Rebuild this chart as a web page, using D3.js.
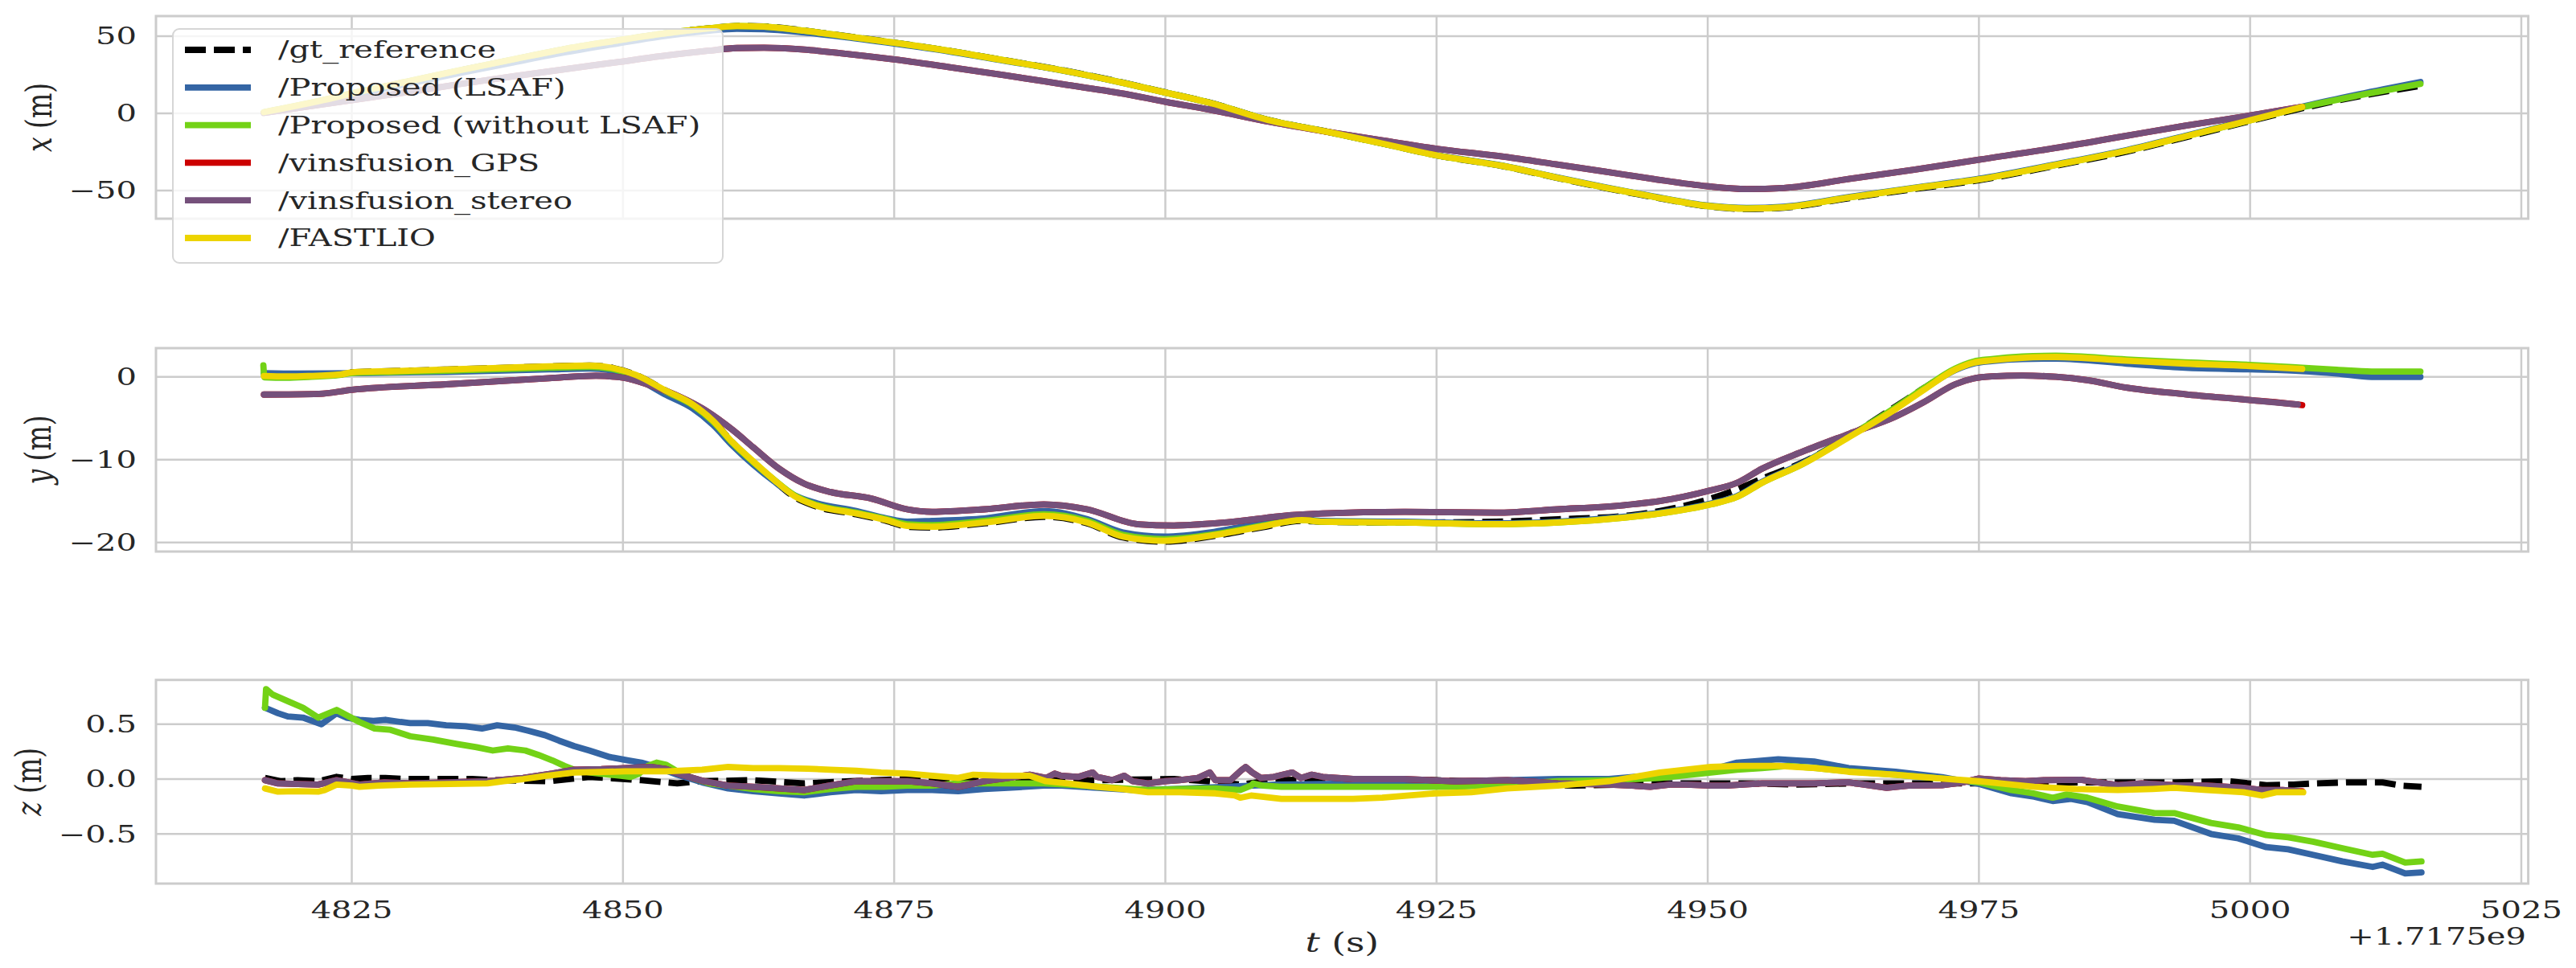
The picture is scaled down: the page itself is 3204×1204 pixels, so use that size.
<!DOCTYPE html>
<html><head><meta charset="utf-8">
<script src="https://cdn.jsdelivr.net/npm/d3@7"></script>
<style>html,body{margin:0;padding:0;background:#fff;} svg{display:block;}</style>
</head><body><div id="chart"></div>
<script>
// ---------- data ----------
const seriesNames = ["/gt_reference","/Proposed (LSAF)","/Proposed (without LSAF)","/vinsfusion_GPS","/vinsfusion_stereo","/FASTLIO"];
const seriesColors = ["#000000","#3465a4","#73d216","#cc0000","#75507b","#edd400"];
const xTickValues = [4825,4850,4875,4900,4925,4950,4975,5000,5025];
const xOffsetText = "+1.7175e9";
const panelLabels = ["x","y","z"];
const yTicksX = [-50,0,50];
const yTicksY = [-20,-10,0];
const yTicksZ = [-0.5,0.0,0.5];

// panel x (m)
const xGt = [[4816.9,0.6],[4822,7.8],[4826,14.3],[4830.4,20.8],[4835,27.8],[4839.9,34.8],[4844.5,41.3],[4849.3,46.8],[4853.5,51.4],[4857.8,55],[4860.5,56.6],[4863,56.3],[4866.7,53.6],[4870,50.6],[4875,45.8],[4880,40.6],[4885.1,34.5],[4890,28.6],[4896.2,19.8],[4900,13.6],[4904,7.1],[4909.7,-4.6],[4915,-12],[4920,-19.5],[4925,-27.2],[4931.2,-34.3],[4936,-41.6],[4940.5,-48.2],[4945,-54.2],[4950,-60.2],[4953.6,-61.9],[4957,-61.1],[4963.1,-54.8],[4969,-49],[4975,-43.3],[4982,-34],[4988.6,-24.8],[4994,-15.6],[5000,-5],[5005,3.6],[5010,11],[5015.7,17.8]];
const xBlue = [[4816.9,0.5],[4822,7.2],[4826,13.3],[4830.4,19.5],[4835,26.2],[4839.9,33],[4844.5,39.3],[4849.3,45],[4853.5,49.8],[4857.8,53.5],[4860.5,54.8],[4863,54.5],[4866.7,52.4],[4870,49.8],[4875,45.2],[4880,40.2],[4885.1,34.2],[4890,28.4],[4896.2,19.6],[4900,13.5],[4904,7],[4909.7,-4.7],[4915,-12],[4920,-19.4],[4925,-27],[4931.2,-34],[4936,-41.3],[4940.5,-47.8],[4945,-53.8],[4950,-59.7],[4953.6,-61.3],[4957,-60.5],[4963.1,-54.1],[4969,-48.2],[4975,-42.4],[4982,-33.1],[4988.6,-23.8],[4994,-14.6],[5000,-4.1],[5005,4.6],[5010,12.3],[5015.7,20.3]];
const xGreen = [[4816.9,0.8],[4822,8],[4826,14.5],[4830.4,21],[4835,28],[4839.9,35],[4844.5,41.5],[4849.3,47],[4853.5,51.5],[4857.8,55],[4860.5,56.6],[4863,56.2],[4866.7,53.5],[4870,50.5],[4875,45.7],[4880,40.5],[4885.1,34.4],[4890,28.5],[4896.2,19.6],[4900,13.5],[4904,7],[4909.7,-4.7],[4915,-12],[4920,-19.5],[4925,-27.2],[4931.2,-34.2],[4936,-41.5],[4940.5,-48],[4945,-54],[4950,-60],[4953.6,-61.6],[4957,-60.8],[4963.1,-54.4],[4969,-48.5],[4975,-42.8],[4982,-33.5],[4988.6,-24.2],[4994,-15],[5000,-4.5],[5005,4.3],[5010,11.6],[5015.7,19.1]];
const xPurple = [[4816.9,0.3],[4822,5.5],[4826,9.5],[4830.4,14],[4835,19],[4839.9,24],[4844.5,28.5],[4849.3,33],[4853.5,37],[4857.8,40.5],[4860.5,42.3],[4863,42.5],[4866.7,41.3],[4870,39],[4875,34.9],[4880,30],[4885.1,24.8],[4890,19.5],[4896.2,12.7],[4900,7.5],[4904,2.5],[4909.7,-5.6],[4915,-12],[4920,-17.5],[4925,-22.9],[4931.2,-28.1],[4936,-33],[4940.5,-37.7],[4945,-42.5],[4950,-47.2],[4953.6,-49],[4957,-48.3],[4963.1,-42.4],[4969,-36.5],[4975,-30],[4982,-22.5],[4988.6,-14.5],[4994,-8],[5000,-1.4],[5004.6,4.0]];
const xRed = xPurple.concat([[5004.8,4.2]]);
const xYellow = [[4816.9,0.8],[4822,8],[4826,14.5],[4830.4,21],[4835,28],[4839.9,35],[4844.5,41.5],[4849.3,47],[4853.5,51.5],[4857.8,55],[4860.5,56.6],[4863,56.2],[4866.7,53.5],[4870,50.5],[4875,45.7],[4880,40.5],[4885.1,34.4],[4890,28.5],[4896.2,19.6],[4900,13.5],[4904,7],[4909.7,-4.7],[4915,-12],[4920,-19.5],[4925,-27.2],[4931.2,-34.2],[4936,-41.5],[4940.5,-48],[4945,-54],[4950,-60],[4953.6,-61.6],[4957,-60.8],[4963.1,-54.4],[4969,-48.5],[4975,-42.8],[4982,-33.5],[4988.6,-24.2],[4994,-15],[5000,-4.5],[5004.8,4.2]];

// panel y (m)
const yGt = [[4816.9,0.1],[4819,0.05],[4821,0.1],[4824,0.3],[4825,0.55],[4829,0.7],[4833.7,0.88],[4838,1.05],[4843.2,1.27],[4846.9,1.36],[4848.8,1.14],[4851.2,0.23],[4854,-1.7],[4856.4,-3.3],[4858.3,-5.3],[4860.1,-7.9],[4862,-10.3],[4863.9,-12.5],[4865.8,-14.5],[4867.7,-15.6],[4871.5,-16.6],[4874.3,-17.4],[4876.2,-18.1],[4878.5,-18.2],[4883.3,-17.7],[4888.8,-16.9],[4892.8,-17.7],[4896.1,-19.4],[4899.9,-19.9],[4904.6,-19.2],[4908.8,-18.2],[4912.6,-17.4],[4914.5,-17.5],[4922,-17.6],[4930.5,-17.5],[4936.2,-17.2],[4942.3,-16.8],[4945.6,-16.2],[4950.3,-14.7],[4952.7,-13.6],[4955,-12.3],[4958.8,-10.3],[4963,-7.2],[4967.3,-3.6],[4970,-1.3],[4972.8,0.9],[4974.5,1.7],[4976.2,2.0],[4979,2.3],[4982.1,2.4],[4988.6,1.9],[4994,1.5],[5000,1.2],[5005,0.9],[5010,0.6],[5015.7,0.4]];
const yBlue = [[4816.9,0.45],[4820,0.4],[4825,0.45],[4833.7,0.6],[4843.2,0.9],[4846.9,1.0],[4848.8,0.8],[4851.2,-0.2],[4854,-2.2],[4856.4,-3.8],[4858.3,-5.8],[4860.1,-8.3],[4862,-10.6],[4863.9,-12.6],[4865.8,-14.3],[4867.7,-15.2],[4871.5,-16.2],[4874.3,-17.1],[4876.2,-17.5],[4878.5,-17.4],[4883.3,-17.1],[4888.8,-16.2],[4892.8,-17.2],[4896.1,-18.8],[4899.9,-19.3],[4904.6,-18.7],[4908.8,-17.7],[4912.6,-17.2],[4914.5,-17.4],[4922,-17.5],[4930.5,-17.7],[4936.2,-17.5],[4942.3,-16.9],[4945.6,-16.4],[4950.3,-15.3],[4952.7,-14.4],[4955,-12.7],[4958.8,-10.4],[4963,-7.2],[4967.3,-3.8],[4970,-1.4],[4972.8,0.8],[4974.5,1.6],[4976.2,1.9],[4979,2.15],[4982.1,2.2],[4988.6,1.6],[4994,1.1],[5000,0.9],[5004.8,0.7],[5008,0.4],[5011.2,0.0],[5015.7,0.0]];
const yGreen = [[4816.85,1.4],[4816.95,-0.05],[4819,-0.1],[4821,0.0],[4824,0.25],[4825,0.45],[4829,0.6],[4833.7,0.75],[4838,0.9],[4843.2,1.1],[4846.9,1.2],[4848.8,1.0],[4851.2,0.1],[4854,-1.8],[4856.4,-3.4],[4858.3,-5.4],[4860.1,-8.0],[4862,-10.3],[4863.9,-12.4],[4865.8,-14.3],[4867.7,-15.4],[4871.5,-16.4],[4874.3,-17.2],[4876.2,-17.8],[4878.5,-17.9],[4883.3,-17.4],[4888.8,-16.6],[4892.8,-17.4],[4896.1,-19.1],[4899.9,-19.6],[4904.6,-19.0],[4908.8,-18.0],[4912.6,-17.3],[4914.5,-17.5],[4922,-17.6],[4930.5,-17.8],[4936.2,-17.6],[4942.3,-17],[4945.6,-16.5],[4950.3,-15.4],[4952.7,-14.5],[4955,-12.8],[4958.8,-10.5],[4963,-7.2],[4967.3,-3.7],[4970,-1.3],[4972.8,1.0],[4974.5,1.85],[4976.2,2.15],[4979,2.45],[4982.1,2.55],[4988.6,2.1],[4994,1.75],[5000,1.45],[5004.8,1.1],[5008,0.85],[5011.2,0.65],[5015.7,0.65]];
const yPurple = [[4816.9,-2.14],[4822,-2.05],[4825,-1.56],[4833.7,-0.9],[4843.2,-0.16],[4847.5,0.13],[4850,-0.1],[4852.6,-1.07],[4855.4,-2.5],[4857.3,-3.8],[4860.1,-6.4],[4862,-8.5],[4864.4,-11.1],[4866.7,-12.9],[4869.1,-13.9],[4872.9,-14.7],[4876.2,-16],[4878.5,-16.3],[4883.3,-16],[4888.8,-15.4],[4892.8,-16],[4897.5,-17.8],[4900.8,-17.95],[4905.5,-17.6],[4911.7,-16.7],[4914.5,-16.5],[4922,-16.3],[4930.5,-16.4],[4936.2,-16],[4942.3,-15.5],[4945.6,-15],[4950.3,-13.7],[4952.7,-12.8],[4955,-11.1],[4958.8,-9],[4963,-6.9],[4967.3,-4.8],[4970,-3],[4972.8,-0.9],[4974.5,-0.2],[4976.2,0.05],[4979,0.15],[4982.1,0],[4985,-0.4],[4988.6,-1.3],[4994,-2.1],[5000,-2.8],[5004.4,-3.35]];
const yRed = yPurple.concat([[5004.8,-3.42]]);
const yYellow = [[4816.9,0.1],[4819,0.05],[4821,0.1],[4824,0.3],[4825,0.55],[4829,0.7],[4833.7,0.88],[4838,1.05],[4843.2,1.27],[4846.9,1.36],[4848.8,1.14],[4851.2,0.23],[4854,-1.7],[4856.4,-3.3],[4858.3,-5.3],[4860.1,-7.9],[4862,-10.2],[4863.9,-12.4],[4865.8,-14.4],[4867.7,-15.5],[4871.5,-16.5],[4874.3,-17.3],[4876.2,-18],[4878.5,-18.1],[4883.3,-17.6],[4888.8,-16.8],[4892.8,-17.6],[4896.1,-19.3],[4899.9,-19.8],[4904.6,-19.1],[4908.8,-18.1],[4912.6,-17.3],[4914.5,-17.5],[4922,-17.6],[4930.5,-17.8],[4936.2,-17.6],[4942.3,-17],[4945.6,-16.5],[4950.3,-15.4],[4952.7,-14.5],[4955,-12.8],[4958.8,-10.5],[4963,-7.3],[4967.3,-3.9],[4970,-1.5],[4972.8,0.86],[4974.5,1.7],[4976.2,2.0],[4979,2.3],[4982.1,2.4],[4988.6,1.95],[4994,1.6],[5000,1.3],[5004.8,0.95]];

// panel z (m)
const zGt = [[4817.0,0.01],[4818.5,-0.02],[4820,-0.01],[4821.9,-0.02],[4823.6,0.02],[4825,0.0],[4826.5,0.01],[4828.1,0.01],[4830,0.0],[4834,0],[4836.1,0],[4838,-0.01],[4843.2,-0.02],[4846.9,0.02],[4848.5,0.01],[4851.7,-0.01],[4855,-0.04],[4857,-0.02],[4862,-0.01],[4866.7,-0.04],[4871,-0.02],[4876.2,0],[4882,-0.01],[4888.8,-0.01],[4893.7,-0.01],[4900.8,0],[4904,-0.02],[4906.9,-0.05],[4910,-0.01],[4917.3,0],[4925,-0.01],[4930,-0.03],[4937.6,-0.06],[4942,-0.05],[4946,-0.04],[4950.3,-0.04],[4954.1,-0.04],[4958,-0.05],[4963,-0.04],[4970,-0.04],[4975,-0.04],[4984.4,-0.03],[4993,-0.03],[4998,-0.02],[5001.5,-0.056],[5004,-0.05],[5005.8,-0.04],[5009,-0.03],[5012.2,-0.03],[5014,-0.06],[5015.8,-0.07]];
const zBlue = [[4817.0,0.65],[4818.2,0.6],[4819.1,0.57],[4820.5,0.56],[4822.2,0.5],[4823.6,0.6],[4824.5,0.56],[4825.7,0.54],[4827,0.53],[4828.1,0.54],[4829.5,0.52],[4830.4,0.51],[4832,0.51],[4833.7,0.49],[4835.5,0.48],[4837,0.46],[4838.4,0.49],[4840,0.47],[4841.3,0.44],[4842.8,0.4],[4844.1,0.35],[4845.5,0.3],[4846.9,0.26],[4848.8,0.2],[4850.5,0.17],[4851.7,0.15],[4853.1,0.11],[4855,0.04],[4857.3,-0.03],[4859.7,-0.085],[4862,-0.11],[4864.4,-0.13],[4866.7,-0.15],[4869.1,-0.12],[4871.5,-0.1],[4873.8,-0.11],[4876.2,-0.1],[4878.5,-0.1],[4880.9,-0.11],[4883.3,-0.09],[4885.5,-0.08],[4888.8,-0.06],[4890.4,-0.06],[4893.7,-0.08],[4897,-0.1],[4900.8,-0.09],[4905.5,-0.07],[4910.2,-0.05],[4914.5,-0.045],[4917.3,-0.04],[4922,-0.03],[4926.7,-0.02],[4931.5,-0.01],[4936.2,0],[4940.9,0],[4945.6,0.04],[4948,0.06],[4950.3,0.085],[4952.7,0.15],[4954.1,0.16],[4956.5,0.18],[4957.4,0.175],[4959.8,0.16],[4963,0.1],[4967.3,0.066],[4971.6,0.017],[4975,-0.044],[4978,-0.13],[4980.1,-0.16],[4981.8,-0.2],[4983.5,-0.18],[4985,-0.21],[4987.8,-0.32],[4991.2,-0.37],[4993,-0.38],[4996.4,-0.5],[4998.9,-0.54],[5001.5,-0.62],[5003.5,-0.64],[5005.8,-0.69],[5008.5,-0.75],[5011.3,-0.8],[5012.2,-0.78],[5014.3,-0.86],[5015.8,-0.85]];
const zGreen = [[4817.0,0.65],[4817.1,0.82],[4817.7,0.77],[4819.1,0.71],[4820.5,0.65],[4821.9,0.56],[4823.6,0.63],[4825.7,0.52],[4827.1,0.46],[4828.5,0.45],[4830.4,0.39],[4832.5,0.36],[4834.7,0.32],[4836.5,0.29],[4838,0.26],[4839.4,0.28],[4841,0.26],[4842.2,0.22],[4843.5,0.17],[4844.6,0.12],[4845.5,0.085],[4847,0.06],[4848.8,0.04],[4849.8,0.03],[4850.7,0.02],[4851.5,0.05],[4852.3,0.12],[4853.1,0.15],[4854,0.13],[4855,0.07],[4856.4,0.01],[4858,-0.04],[4859.7,-0.06],[4862,-0.09],[4864.4,-0.11],[4866.7,-0.12],[4869.1,-0.09],[4871.5,-0.07],[4874,-0.07],[4876.2,-0.06],[4878.5,-0.06],[4880.9,-0.04],[4884,-0.04],[4888.8,-0.04],[4891,-0.05],[4894,-0.07],[4898.4,-0.1],[4901.3,-0.09],[4904.6,-0.085],[4906.9,-0.1],[4907.9,-0.06],[4908.1,-0.04],[4909,-0.06],[4910.7,-0.07],[4914.5,-0.07],[4917.3,-0.07],[4922,-0.07],[4926.7,-0.07],[4931.5,-0.05],[4936.2,-0.02],[4940.9,-0.01],[4945.6,0.01],[4950.3,0.06],[4952.7,0.085],[4955,0.1],[4957.4,0.12],[4960,0.1],[4963,0.07],[4967.3,0.04],[4971.6,0.005],[4975,-0.03],[4978,-0.1],[4980,-0.13],[4981.8,-0.17],[4983.1,-0.14],[4985,-0.17],[4987.8,-0.25],[4991.2,-0.31],[4993,-0.31],[4996.4,-0.4],[4998.9,-0.44],[5001.5,-0.51],[5003.5,-0.53],[5005.8,-0.57],[5008.5,-0.63],[5011.3,-0.69],[5012.2,-0.68],[5014.3,-0.76],[5015.8,-0.75]];
const zPurple = [[4817.0,-0.01],[4818.2,-0.04],[4821.9,-0.05],[4823.6,-0.01],[4825.7,-0.05],[4828,-0.03],[4830.4,-0.04],[4834,-0.03],[4837.5,-0.02],[4840.8,0.01],[4843.5,0.05],[4845.5,0.085],[4848,0.09],[4850.2,0.1],[4852.6,0.11],[4854,0.09],[4855.4,0.04],[4857.5,-0.02],[4859.7,-0.06],[4862,-0.07],[4864.4,-0.085],[4866.7,-0.1],[4869,-0.06],[4871.5,-0.02],[4876.2,-0.02],[4878.5,-0.04],[4880.9,-0.07],[4883.3,-0.02],[4885.5,0.01],[4887.5,0.04],[4889,0.01],[4889.8,0.05],[4890.4,0.03],[4892,0.02],[4893.3,0.06],[4893.7,0.02],[4895.1,-0.01],[4896.2,0.03],[4897,-0.02],[4898.4,-0.04],[4900,-0.02],[4901.3,-0.01],[4903,0.01],[4904.1,0.06],[4904.6,-0.01],[4906,-0.01],[4907,0.08],[4907.4,0.11],[4908,0.06],[4908.8,0.01],[4910,0.02],[4911.7,0.06],[4912.5,0.01],[4913.5,0.04],[4914.5,0.02],[4917.3,0],[4922,0],[4926.7,-0.02],[4931.5,-0.01],[4936.2,-0.04],[4940.9,-0.05],[4943,-0.06],[4944.7,-0.07],[4946.5,-0.05],[4948,-0.05],[4950.3,-0.06],[4951.7,-0.06],[4955,-0.04],[4959.8,-0.04],[4963,-0.03],[4966.5,-0.08],[4968.5,-0.06],[4971.6,-0.056],[4973.5,-0.03],[4975,0.005],[4977,-0.01],[4979.3,-0.02],[4981,-0.01],[4984.4,-0.007],[4986,-0.03],[4987.8,-0.056],[4990,-0.04],[4993,-0.056],[4996,-0.06],[4999.4,-0.08],[5001.1,-0.1],[5003,-0.1],[5004.4,-0.11]];
const zRed = zPurple.concat([[5004.8,-0.11]]);
const zYellow = [[4817.0,-0.085],[4818.2,-0.115],[4820,-0.11],[4821.9,-0.115],[4822.5,-0.1],[4823.6,-0.05],[4825,-0.06],[4825.7,-0.07],[4827.5,-0.06],[4830.4,-0.05],[4834,-0.045],[4837.5,-0.04],[4839,-0.02],[4840.8,0],[4843,0.03],[4845.5,0.06],[4848,0.065],[4850.2,0.07],[4852,0.07],[4854,0.07],[4857.3,0.085],[4859.7,0.11],[4862,0.1],[4864.4,0.1],[4867,0.095],[4869.1,0.085],[4871.5,0.075],[4873.8,0.06],[4876.2,0.05],[4878.5,0.03],[4880.9,0.01],[4882.3,0.04],[4885,0.03],[4887.5,0.03],[4889,-0.02],[4891,-0.04],[4893.7,-0.07],[4896,-0.09],[4898.4,-0.12],[4901.3,-0.12],[4904.6,-0.13],[4906.4,-0.15],[4906.9,-0.17],[4907.9,-0.15],[4910.7,-0.18],[4914,-0.18],[4917.3,-0.18],[4920,-0.17],[4924.9,-0.13],[4928.2,-0.12],[4931.5,-0.085],[4936.2,-0.06],[4940.9,-0.02],[4945.6,0.06],[4950.3,0.11],[4953,0.12],[4956.5,0.12],[4960,0.1],[4963,0.066],[4967.3,0.04],[4971.6,0.005],[4975,-0.02],[4977.5,-0.045],[4980.1,-0.07],[4984,-0.09],[4987.8,-0.1],[4991,-0.09],[4993,-0.08],[4996,-0.1],[4999.4,-0.12],[5001.1,-0.15],[5002.4,-0.12],[5004.9,-0.12]];

// ---------- layout ----------
const W = 3204, H = 1204;
const plotLeft = 194, plotRight = 3144.6;
const sxText = 1.38;           // horizontal stretch of the text
const tickFont = 29, labelFont = 33, legendFont = 29;
const textColor = "#262626", gridColor = "#cccccc";
const lineW = 7.8;

const panels = [
  {top:20, bottom:272, domain:[-68.2,63.0], ticks:yTicksX, fmt:d3.format("d"), label:panelLabels[0], labelX:48,
   series:[xGt,xBlue,xGreen,xRed,xPurple,xYellow], curve:d3.curveMonotoneX},
  {top:433, bottom:686, domain:[-21.1,3.47], ticks:yTicksY, fmt:d3.format("d"), label:panelLabels[1], labelX:47,
   series:[yGt,yBlue,yGreen,yRed,yPurple,yYellow], curve:d3.curveMonotoneX},
  {top:845.7, bottom:1099, domain:[-0.952,0.903], ticks:yTicksZ, fmt:d3.format(".1f"), label:panelLabels[2], labelX:35,
   series:[zGt,zBlue,zGreen,zRed,zPurple,zYellow], curve:d3.curveLinear}
];

const x = d3.scaleLinear().domain([4806.95, 5025.64]).range([plotLeft, plotRight]);
const minus = s => s.replace("-", "\u2212");

const svg = d3.select("#chart").append("svg").attr("width", W).attr("height", H)
  .style("font-family", "'DejaVu Serif', serif");
svg.append("rect").attr("width", W).attr("height", H).attr("fill", "#fff");

function stretchedText(parent, px, py, rotate) {
  const g = parent.append("g").attr("transform", `translate(${px},${py}) scale(${sxText},1)` + (rotate ? " rotate(-90)" : ""));
  return g.append("text").attr("fill", textColor);
}

panels.forEach((p, pi) => {
  const y = d3.scaleLinear().domain(p.domain).range([p.bottom, p.top]);
  const g = svg.append("g");
  // grid
  g.selectAll(".vg").data(xTickValues).join("line")
    .attr("x1", d => x(d)).attr("x2", d => x(d)).attr("y1", p.top).attr("y2", p.bottom)
    .attr("stroke", gridColor).attr("stroke-width", 2.5);
  g.selectAll(".hg").data(p.ticks).join("line")
    .attr("x1", plotLeft).attr("x2", plotRight).attr("y1", d => y(d)).attr("y2", d => y(d))
    .attr("stroke", gridColor).attr("stroke-width", 2.5);
  // lines
  const line = d3.line().x(d => x(d[0])).y(d => y(d[1])).curve(p.curve);
  p.series.forEach((data, si) => {
    g.append("path").datum(data).attr("d", line)
      .attr("fill", "none").attr("stroke", seriesColors[si])
      .attr("stroke-width", lineW)
      .attr("stroke-linejoin", "round")
      .attr("stroke-linecap", si === 0 ? "butt" : "round")
      .attr("stroke-dasharray", si === 0 ? "26 10" : null);
  });
  // spines
  g.append("rect").attr("x", plotLeft).attr("y", p.top).attr("width", plotRight - plotLeft).attr("height", p.bottom - p.top)
    .attr("fill", "none").attr("stroke", gridColor).attr("stroke-width", 3);
  // y tick labels
  p.ticks.forEach(t => {
    stretchedText(g, 170, y(t), false).attr("text-anchor", "end").attr("dy", "0.36em")
      .attr("font-size", tickFont).text(minus(p.fmt(t)));
  });
  // y label
  const lab = stretchedText(g, p.labelX, (p.top + p.bottom) / 2, true)
    .attr("text-anchor", "middle").attr("dy", "0.36em").attr("font-size", labelFont);
  lab.append("tspan").attr("font-style", "italic").text(p.label);
  lab.append("tspan").text(" (m)");
  // x tick labels (bottom panel only)
  if (pi === 2) {
    xTickValues.forEach(t => {
      stretchedText(g, x(t), 1142, false).attr("text-anchor", "middle")
        .attr("font-size", tickFont).text(d3.format("d")(t));
    });
    stretchedText(g, 3142, 1175, false).attr("text-anchor", "end").attr("font-size", tickFont).text(xOffsetText);
    const xl = stretchedText(g, (plotLeft + plotRight) / 2, 1184, false).attr("text-anchor", "middle").attr("font-size", labelFont);
    xl.append("tspan").attr("font-style", "italic").text("t");
    xl.append("tspan").text(" (s)");
  }
});

// legend (on top panel)
const leg = svg.append("g");
leg.append("rect").attr("x", 215).attr("y", 36).attr("width", 684).attr("height", 291).attr("rx", 8)
  .attr("fill", "rgba(255,255,255,0.8)").attr("stroke", "#d6d6d6").attr("stroke-width", 2);
const legRowY = d3.scaleLinear().domain([0, 5]).range([62, 296]);
seriesNames.forEach((name, i) => {
  leg.append("line").attr("x1", 230).attr("x2", 312).attr("y1", legRowY(i)).attr("y2", legRowY(i))
    .attr("stroke", seriesColors[i]).attr("stroke-width", lineW)
    .attr("stroke-dasharray", i === 0 ? "26 10" : null);
  stretchedText(leg, 346, legRowY(i), false).attr("dy", "0.36em").attr("font-size", legendFont).text(name);
});
</script></body></html>
